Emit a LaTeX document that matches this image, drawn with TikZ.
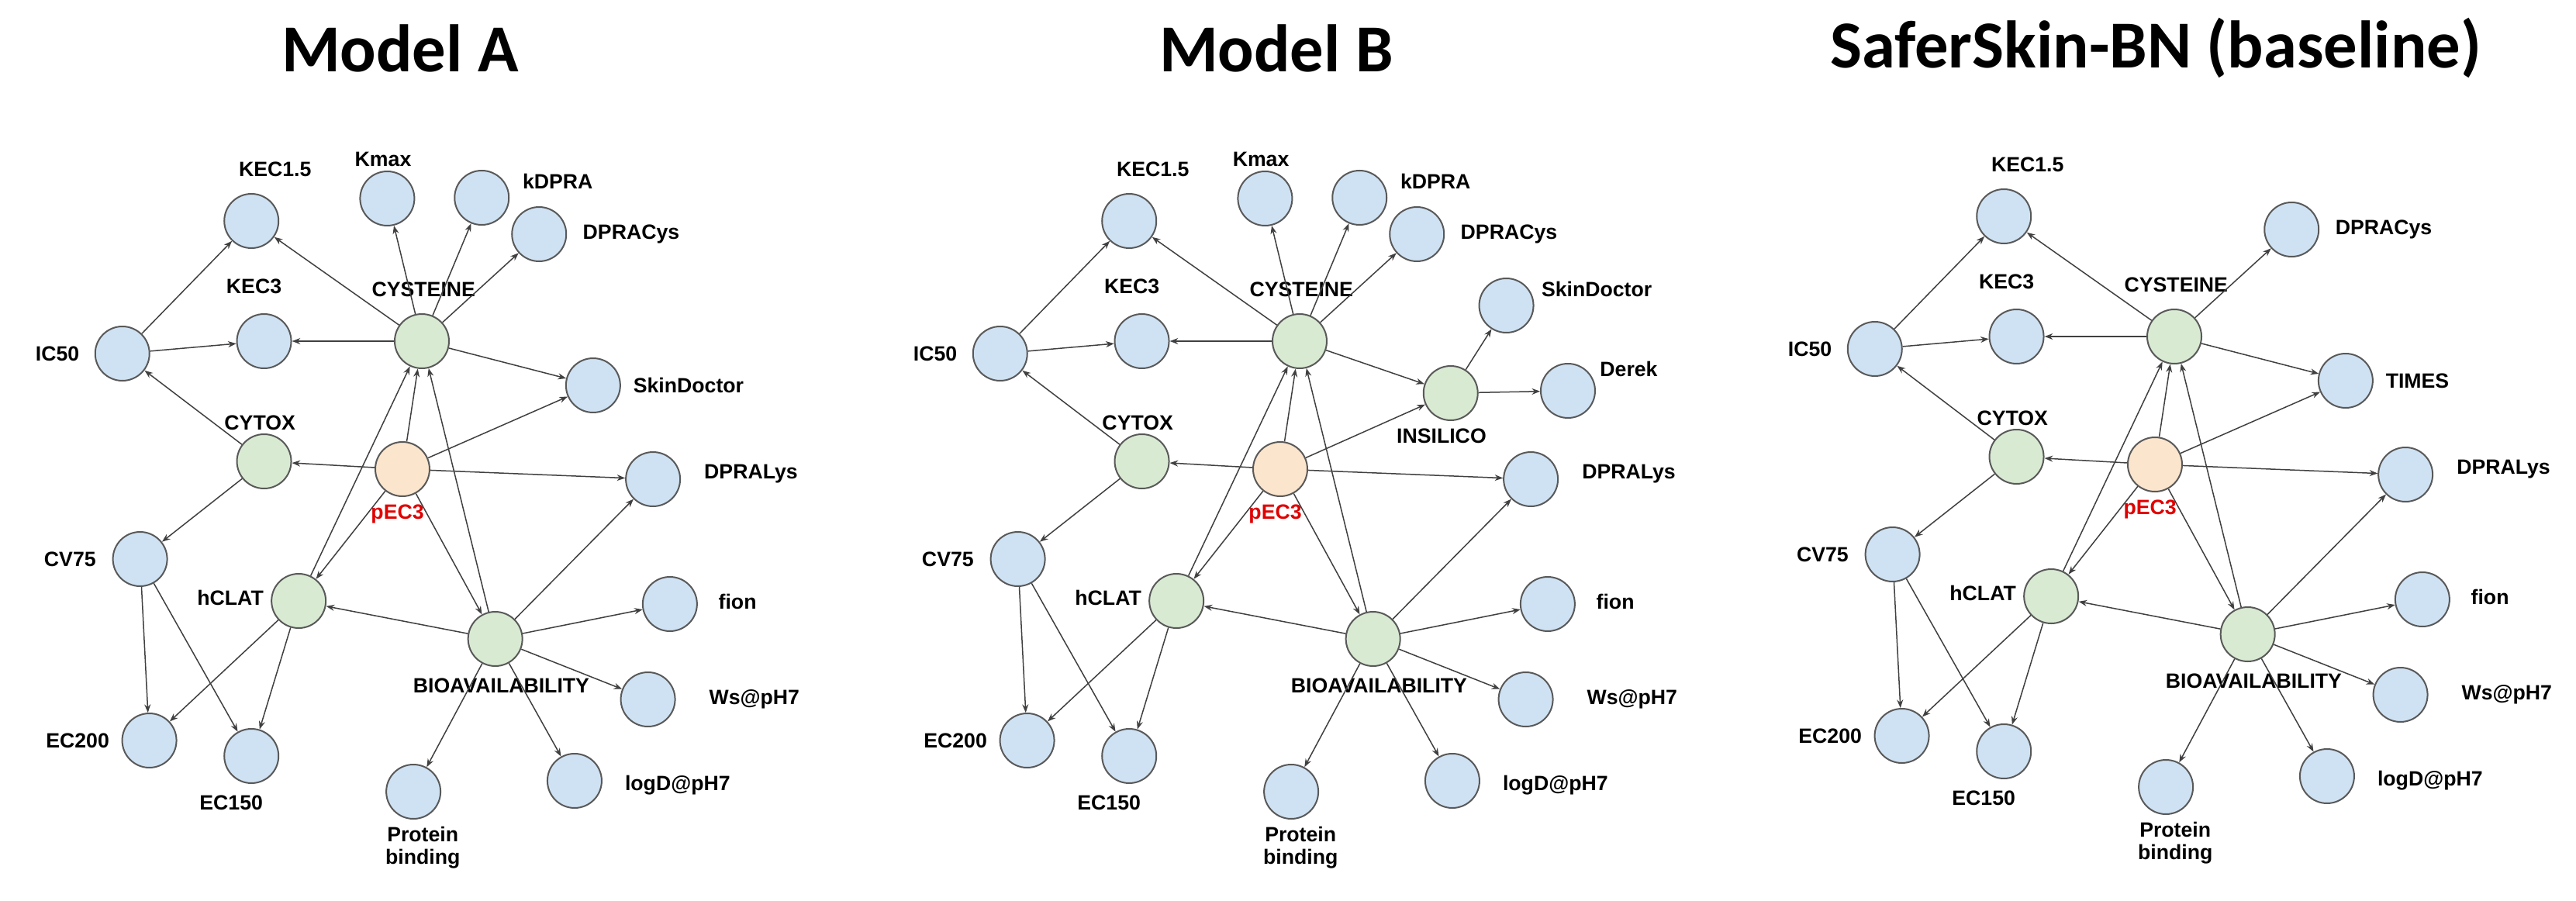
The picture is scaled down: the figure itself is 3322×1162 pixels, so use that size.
\documentclass[tikz,border=0pt]{standalone}
\usepackage{fontspec}
\setmainfont{Liberation Sans}
\newfontfamily\titfont{Carlito}
\usetikzlibrary{arrows.meta}
\definecolor{nblue}{HTML}{CFE2F3}
\definecolor{ngreen}{HTML}{D9EAD3}
\definecolor{norange}{HTML}{FCE5CD}
\definecolor{pred}{HTML}{E00000}
\tikzset{
  x=0.3pt,y=-0.3pt,
  nd/.style={circle,draw=black!65,line width=0.6pt,minimum size=21pt,inner sep=0pt},
  nb/.style={nd,fill=nblue}, ng/.style={nd,fill=ngreen}, no/.style={nd,fill=norange},
  lab/.style={font=\fontsize{8}{8.8}\selectfont\bfseries,align=center,inner sep=0pt},
  tit/.style={font=\titfont\fontsize{26}{28}\selectfont\bfseries},
  e/.style={-{Stealth[length=3.2pt,width=2.4pt]},line width=0.45pt,draw=black!75}
}
\newcommand\Lb[4]{\node[lab#4] at ([shift={#2}]#1) {#3};}
\newcommand\Common[1]{%
  \node[nb] (#1kec15) at (298,285) {};
  \node[nb] (#1dcys) at (639,302) {};
  \node[nb] (#1kec3) at (313,440) {};
  \node[ng] (#1cys) at (500,440) {};
  \node[nb] (#1ic50) at (145,456) {};
  \node[ng] (#1cytox) at (313,595) {};
  \node[no] (#1pec) at (477,605) {};
  \node[nb] (#1dlys) at (774,618) {};
  \node[nb] (#1cv75) at (166,721) {};
  \node[ng] (#1hclat) at (354,775) {};
  \node[ng] (#1bio) at (587,824) {};
  \node[nb] (#1fion) at (794,779) {};
  \node[nb] (#1ws) at (768,902) {};
  \node[nb] (#1ec200) at (177,955) {};
  \node[nb] (#1ec150) at (298,975) {};
  \node[nb] (#1logd) at (681,1007) {};
  \node[nb] (#1prot) at (490,1021) {};
  \Lb{#1kec15}{(28,-67)}{KEC1.5}{}
  \Lb{#1dcys}{(109,0)}{DPRACys}{}
  \Lb{#1kec3}{(-12,-71)}{KEC3}{}
  \Lb{#1cys}{(2,-67)}{CYSTEINE}{}
  \Lb{#1ic50}{(-77,0)}{IC50}{}
  \Lb{#1cytox}{(-5,-50)}{CYTOX}{}
  \Lb{#1pec}{(-6,58)}{pEC3}{,text=pred}
  \Lb{#1dlys}{(116,-7)}{DPRALys}{}
  \Lb{#1cv75}{(-83,0)}{CV75}{}
  \Lb{#1hclat}{(-81,-4)}{hCLAT}{}
  \Lb{#1bio}{(7,60)}{BIOAVAILABILITY}{}
  \Lb{#1fion}{(80,-3)}{fion}{}
  \Lb{#1ws}{(126,0)}{Ws@pH7}{}
  \Lb{#1ec200}{(-85,0)}{EC200}{}
  \Lb{#1ec150}{(-24,60)}{EC150}{}
  \Lb{#1logd}{(122,6)}{logD@pH7}{}
  \Lb{#1prot}{(11,72)}{Protein\\binding}{}
  \foreach \t in {kec15,dcys,kec3} {\draw[e] (#1cys) -- (#1\t);}
  \draw[e] (#1ic50) -- (#1kec15);
  \draw[e] (#1ic50) -- (#1kec3);
  \draw[e] (#1cytox) -- (#1ic50);
  \draw[e] (#1cytox) -- (#1cv75);
  \foreach \t in {cytox,cys,dlys,hclat,bio} {\draw[e] (#1pec) -- (#1\t);}
  \foreach \t in {cys,ec200,ec150} {\draw[e] (#1hclat) -- (#1\t);}
  \foreach \t in {cys,hclat,dlys,fion,ws,logd,prot} {\draw[e] (#1bio) -- (#1\t);}
  \draw[e] (#1cv75) -- (#1ec200);
  \draw[e] (#1cv75) -- (#1ec150);
}
\begin{document}
\begin{tikzpicture}
\useasboundingbox (0,0) rectangle (3322,1162);
\node[tit] (tA) at (516,62) {Model A};
\node[tit] (tB) at (1646,62) {Model B};
\node[tit] (tC) at (2780,62) {SaferSkin-BN (baseline)};
% Model A
\begin{scope}[xscale=1.088]
\Common{A}
\node[nb] (Akmax) at (459,256) {};
\node[nb] (Akdpra) at (571,255) {};
\node[nb] (Askin) at (703,497) {};
\Lb{Akmax}{(-5,-51)}{Kmax}{}
\Lb{Akdpra}{(90,-21)}{kDPRA}{}
\Lb{Askin}{(113,0)}{SkinDoctor}{}
\draw[e] (Acys) -- (Akmax);
\draw[e] (Acys) -- (Akdpra);
\draw[e] (Acys) -- (Askin);
\draw[e] (Apec) -- (Askin);
\end{scope}
% Model B
\begin{scope}[shift={(1132,0)},xscale=1.088]
\Common{B}
\node[nb] (Bkmax) at (459,256) {};
\node[nb] (Bkdpra) at (571,255) {};
\node[ng] (Bins) at (679,507) {};
\node[nb] (Bskin) at (745,394) {};
\node[nb] (Bderek) at (818,504) {};
\Lb{Bkmax}{(-5,-51)}{Kmax}{}
\Lb{Bkdpra}{(90,-21)}{kDPRA}{}
\Lb{Bins}{(-11,55)}{INSILICO}{}
\Lb{Bskin}{(107,-21)}{SkinDoctor}{}
\Lb{Bderek}{(72,-28)}{Derek}{}
\draw[e] (Bcys) -- (Bkmax);
\draw[e] (Bcys) -- (Bkdpra);
\draw[e] (Bcys) -- (Bins);
\draw[e] (Bpec) -- (Bins);
\draw[e] (Bins) -- (Bskin);
\draw[e] (Bins) -- (Bderek);
\end{scope}
% Model C
\begin{scope}[shift={(2260,-6)},xscale=1.088]
\Common{C}
\node[nb] (Ctimes) at (703,497) {};
\Lb{Ctimes}{(85,0)}{TIMES}{}
\draw[e] (Ccys) -- (Ctimes);
\draw[e] (Cpec) -- (Ctimes);
\end{scope}
\end{tikzpicture}
\end{document}
